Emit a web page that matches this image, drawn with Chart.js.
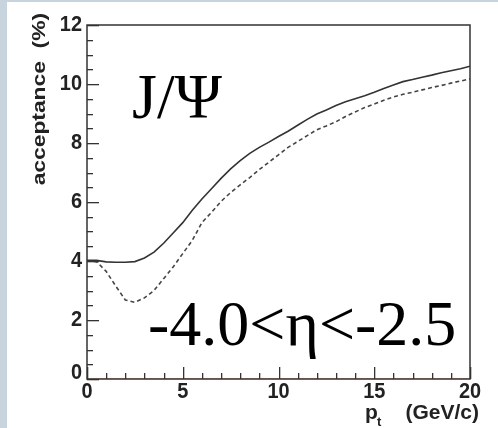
<!DOCTYPE html>
<html>
<head>
<meta charset="utf-8">
<script src="https://cdn.jsdelivr.net/npm/chart.js@4/dist/chart.umd.min.js"></script>
<style>
  html, body { margin: 0; padding: 0; background: #fff; }
  canvas { display: block; }
</style>
</head>
<body>
<canvas id="accChart" width="498" height="428"></canvas>
<script>
// pt bin positions (GeV/c) and acceptance (%)
const ptBins = [0, 0.5, 1, 1.5, 2, 2.5, 3, 3.5, 4, 4.5, 5, 5.5, 6, 6.5, 7, 7.5, 8, 8.5, 9, 9.5,
                10, 10.5, 11, 11.5, 12, 12.5, 13, 13.5, 14, 14.5, 15, 15.5, 16, 16.5, 17, 17.5, 18, 18.5, 19, 19.5, 20];
const accSolid = [4.02, 4.02, 3.97, 3.96, 3.96, 3.98, 4.1, 4.3, 4.6, 4.95, 5.3, 5.72, 6.1, 6.45, 6.8, 7.12, 7.4, 7.65, 7.85, 8.03,
                  8.22, 8.4, 8.6, 8.8, 8.98, 9.12, 9.27, 9.4, 9.5, 9.6, 9.72, 9.85, 9.97, 10.08, 10.15, 10.23, 10.3, 10.38, 10.45, 10.52, 10.6];
const accDashed = [4.0, 3.98, 3.65, 3.15, 2.68, 2.6, 2.75, 3.0, 3.4, 3.8, 4.25, 4.7, 5.3, 5.65, 6.02, 6.32, 6.58, 6.83, 7.1, 7.35,
                   7.6, 7.85, 8.05, 8.25, 8.45, 8.58, 8.72, 8.9, 9.05, 9.2, 9.32, 9.45, 9.56, 9.65, 9.72, 9.8, 9.88, 9.95, 10.03, 10.1, 10.17];
const zeroLineX = [0, 20];
const zeroLineY = [0, 0];

const toPoints = (xs, ys) => xs.map((x, i) => ({ x: x, y: ys[i] }));
const labelFont = 'bold 19px "Liberation Sans"';

// gray strips, ROOT style inward ticks, frame, tick labels and text
const decorPlugin = {
    id: 'decor',
    beforeDraw(chart) {
        const ctx = chart.ctx;
        ctx.save();
        ctx.fillStyle = '#fff';
        ctx.fillRect(0, 0, chart.width, chart.height);
        ctx.fillStyle = '#c8d4dd';
        ctx.fillRect(0, 0, 7, chart.height);
        ctx.fillRect(0, 0, chart.width, 2);
        ctx.restore();
    },
    afterDraw(chart) {
        const ctx = chart.ctx;
        const a = chart.chartArea;
        const xs = chart.scales.x, ys = chart.scales.y;
        ctx.save();
        ctx.setLineDash([]);
        ctx.globalAlpha = 1;
        ctx.fillStyle = '#333';
        for (let i = 0; i <= 20; i++) {
            const px = Math.round(xs.getPixelForValue(i));
            const len = i % 5 === 0 ? 12 : 6;
            ctx.fillRect(px, a.bottom - len, 1.3, len);
        }
        for (let i = 0; i <= 24; i++) {
            const py = Math.round(ys.getPixelForValue(i / 2));
            const len = i % 4 === 0 ? 12 : 6;
            ctx.fillRect(a.left, py, len, 1.3);
        }
        ctx.strokeStyle = '#333';
        ctx.lineWidth = 1.5;
        ctx.strokeRect(a.left, a.top, a.right - a.left, a.bottom - a.top);

        // tick labels from the scales, slightly stretched vertically like the original
        ctx.fillStyle = '#222';
        ctx.font = labelFont;
        ctx.textBaseline = 'middle';
        ctx.textAlign = 'center';
        xs.ticks.forEach(t => {
            ctx.save();
            ctx.translate(xs.getPixelForValue(t.value), a.bottom + 13);
            ctx.scale(1.05, 1.15);
            ctx.fillText(String(t.value), 0, 0);
            ctx.restore();
        });
        ctx.textAlign = 'right';
        ys.ticks.forEach(t => {
            ctx.save();
            ctx.translate(a.left - 5, ys.getPixelForValue(t.value) - (t.value === 0 ? 6 : 0));
            ctx.scale(1.05, 1.2);
            ctx.fillText(String(t.value), 0, 0);
            ctx.restore();
        });

        // annotations
        ctx.fillStyle = '#000';
        ctx.textBaseline = 'alphabetic';
        ctx.textAlign = 'left';
        ctx.font = '64px "Liberation Serif"';
        ctx.fillText('J/Ψ', 132, 118);
        ctx.fillText('-4.0<η<-2.5', 148, 345);

        // axis titles
        ctx.fillStyle = '#222';
        ctx.font = 'bold 21px "Liberation Sans"';
        ctx.textAlign = 'right';
        ctx.fillText('(GeV/c)', 479, 419);
        ctx.textAlign = 'left';
        ctx.fillText('p', 365, 419);
        ctx.font = 'bold 13px "Liberation Sans"';
        ctx.fillText('t', 377, 426);

        ctx.translate(40, 13);
        ctx.rotate(-Math.PI / 2);
        ctx.scale(1.2, 1);
        ctx.textAlign = 'right';
        ctx.textBaseline = 'middle';
        ctx.font = 'bold 19px "Liberation Sans"';
        ctx.fillText('acceptance  (%)', 0, 0);
        ctx.restore();
    }
};

new Chart(document.getElementById('accChart'), {
    type: 'line',
    data: {
        datasets: [
            {
                label: 'baseline',
                data: toPoints(zeroLineX, zeroLineY),
                borderColor: '#f0b49c',
                borderWidth: 2,
                pointRadius: 0
            },
            {
                label: 'all',
                data: toPoints(ptBins, accSolid),
                borderColor: '#333',
                borderWidth: 1.6,
                pointRadius: 0,
                tension: 0
            },
            {
                label: 'cut',
                data: toPoints(ptBins, accDashed),
                borderColor: '#444',
                borderWidth: 1.6,
                borderDash: [4, 3],
                pointRadius: 0,
                tension: 0
            }
        ]
    },
    options: {
        responsive: false,
        animation: false,
        devicePixelRatio: 1,
        layout: { padding: { left: 0, right: 28, top: 25, bottom: 0 } },
        plugins: { legend: { display: false }, tooltip: { enabled: false } },
        scales: {
            x: {
                type: 'linear', min: 0, max: 20,
                grid: { display: false, drawTicks: false },
                border: { display: false },
                ticks: { stepSize: 5, display: false },
                afterFit(scale) { scale.height = 49; }
            },
            y: {
                min: 0, max: 12,
                grid: { display: false, drawTicks: false },
                border: { display: false },
                ticks: { stepSize: 2, display: false },
                afterFit(scale) { scale.width = 87; }
            }
        }
    },
    plugins: [decorPlugin]
});
</script>
</body>
</html>
